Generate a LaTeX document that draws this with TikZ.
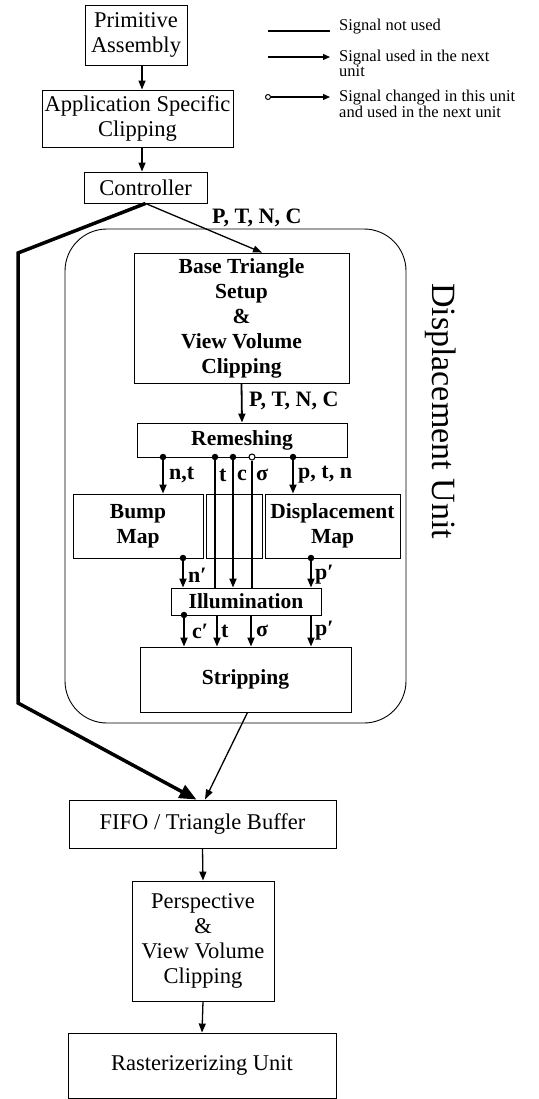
\documentclass[tikz,border=0pt]{standalone}
\usepackage{fontspec}
\setmainfont{Liberation Serif}
\usetikzlibrary{arrows.meta,calc}
\begin{document}
\begin{tikzpicture}[x=1pt,y=-1pt,
  box/.style={draw,line width=0.9pt,inner sep=0pt,align=center,font=\fontsize{22.5}{25}\selectfont},
  ibox/.style={draw,line width=0.9pt,inner sep=0pt,align=center,font=\fontsize{21.5}{25}\selectfont\bfseries},
  flow/.style={line width=1.3pt,-{Triangle[length=9pt,width=7pt]}},
  sig/.style={line width=1.8pt},
  sarr/.style={sig,-{Triangle[length=9pt,width=7pt]}},
  lbl/.style={font=\fontsize{22}{24}\selectfont\bfseries,anchor=west,inner sep=0pt},
  sdot/.style={circle,fill,inner sep=0pt,minimum size=6.5pt},
  odot/.style={circle,draw,fill=white,line width=1pt,inner sep=0pt,minimum size=6pt},
  leg/.style={font=\fontsize{16.5}{15}\selectfont,anchor=west,inner sep=0pt,align=left},
  legline/.style={line width=1.3pt},
  legarr/.style={legline,-{Triangle[length=7pt,width=6pt]}}
]
\useasboundingbox (0,0) rectangle (538,1099);

% top chain
\node[box,minimum width=102pt,minimum height=60pt] (prim) at (136,35) {Primitive\\Assembly};
\node[box,minimum width=191pt,minimum height=57pt] (app) at (137.5,118.5) {Application Specific\\Clipping};
\node[box,minimum width=123pt,minimum height=31pt] (ctl) at (145.5,187.5) {Controller};
\coordinate (ax) at (142,0);
\draw[flow] (prim.south -| ax) -- (app.north -| ax);
\draw[flow] (app.south -| ax) -- (ctl.north -| ax);

% legend
\coordinate (l1a) at (268,31); \coordinate (l1b) at (330,31);
\coordinate (l2a) at (268,57); \coordinate (l2b) at (330,57);
\coordinate (l3b) at (330,97);
\node[odot,minimum size=5pt] (l3a) at (268,97) {};
\draw[legline] (l1a) -- (l1b);
\draw[legarr] (l2a) -- (l2b);
\draw[legarr] (l3a) -- (l3b);
\node[leg] (t1) at (339,27) {Signal not used};
\node[leg] (t2) at (339,63) {Signal used in the next\\unit};
\node[leg] (t3) at (339,104) {Signal changed in this unit\\and used in the next unit};

% displacement unit outline
\node[draw,line width=0.9pt,rounded corners=42pt,minimum width=341pt,minimum height=494pt] (outer) at (235.5,476) {};
\node[rotate=-90,font=\fontsize{34}{34}\selectfont,inner sep=0pt] (du) at (441,411) {Displacement Unit};

% inner boxes
\node[ibox,minimum width=215pt,minimum height=130pt] (base) at (241.5,318) {Base Triangle\\Setup\\\&\\View Volume\\Clipping};
\node[ibox,minimum width=210pt,minimum height=34pt] (rem) at (242,440) {Remeshing};
\node[ibox,minimum width=130pt,minimum height=64pt] (bump) at (138,526) {Bump\\Map};
\node[draw,line width=0.9pt,minimum width=56pt,minimum height=64pt,inner sep=0pt] (mid) at (234,526) {};
\node[ibox,minimum width=135pt,minimum height=64pt] (disp) at (332.5,526) {Displacement\\Map};
\node[ibox,minimum width=150pt,minimum height=27pt] (ill) at (246,601.5) {Illumination};
\node[ibox,minimum width=211pt,minimum height=65pt] (strip) at (245.5,679.5) {Stripping};

\draw[flow] (ctl.south) -- ([xshift=20.5pt]base.north);
\node[lbl] (ptnc1) at (212,218) {P, T, N, C};
\draw[sig,-{Triangle[length=9pt,width=7pt]}] (base.south) -- (rem.north);
\node[lbl] (ptnc2) at (249,401) {P, T, N, C};

% remeshing outputs
\node[sdot] (r1) at (163,457) {};
\node[sdot] (r2) at (215,457) {};
\node[sdot] (r3) at (233,457) {};
\node[odot] (r4) at (252,457) {};
\node[sdot] (r5) at (293,457) {};
\draw[sarr] (r1) -- (r1 |- bump.north);
\draw[sig] (r2) -- (r2 |- ill.north);
\draw[sarr] (r3) -- (r3 |- ill.north);
\draw[sig] (r4) -- (r4 |- ill.north);
\draw[sarr] (r5) -- (r5 |- disp.north);
\node[lbl] at (169,475) {n,t};
\node[lbl] at (219,475) {t};
\node[lbl] at (237,475) {c};
\node[lbl] at (256,475) {σ};
\node[lbl] at (298,475) {p, t, n};

% map outputs
\node[sdot] (b1) at (183,558) {};
\node[sdot] (d1) at (311,558) {};
\draw[sarr] (b1) -- (b1 |- ill.north);
\draw[sarr] (d1) -- (d1 |- ill.north);
\node[lbl] at (188,575) {n′};
\node[lbl] at (315,575) {p′};

% illumination outputs
\node[sdot] (i1) at (184,615) {};
\coordinate (i2) at (217,615);
\coordinate (i3) at (251,615);
\coordinate (i4) at (311,615);
\draw[sarr] (i1) -- (i1 |- strip.north);
\draw[sarr] (i2) -- (i2 |- strip.north);
\draw[sarr] (i3) -- (i3 |- strip.north);
\draw[sarr] (i4) -- (i4 |- strip.north);
\node[lbl] at (192,631) {c′};
\node[lbl] at (221,631) {t};
\node[lbl] at (256,631) {σ};
\node[lbl] at (315,631) {p′};

% bottom chain
\node[box,minimum width=267pt,minimum height=48pt] (fifo) at (202.5,824) {FIFO / Triangle Buffer};
\node[box,minimum width=142pt,minimum height=120pt] (persp) at (203,941) {Perspective\\\&\\View Volume\\Clipping};
\node[box,minimum width=268pt,minimum height=65pt] (rast) at (202,1065.5) {Rasterizerizing Unit};
\draw[flow] (fifo.south) -- (persp.north);
\draw[flow] (persp.south) -- (rast.north);

% bypass and output
\coordinate (tl) at (18,253);
\coordinate (bl) at (18,703);
\draw[line width=3.5pt,line join=miter,-{Triangle[length=17pt,width=14pt]}] (ctl.south) -- (tl) -- (bl) -- ([xshift=-6pt]fifo.north);
\draw[line width=1.3pt,-{Triangle[length=10pt,width=7pt]}] ([xshift=2pt]strip.south) -- ([xshift=2.5pt]fifo.north);
\end{tikzpicture}
\end{document}
